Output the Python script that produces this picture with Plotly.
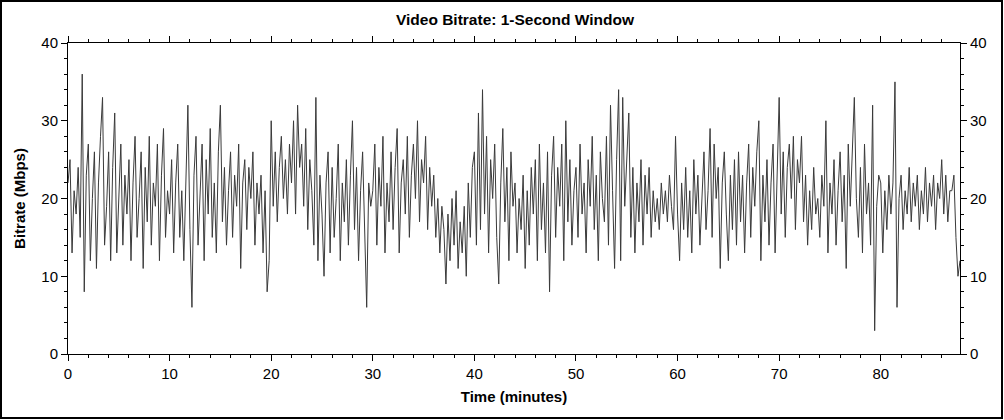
import numpy as np
import plotly.graph_objects as go

bitrate_00_10 = [22, 25, 13, 21, 18, 24, 15, 36, 8, 23, 27, 12, 20, 26, 11, 22, 28, 33, 14, 19,
                 26, 12, 24, 31, 13, 21, 27, 14, 23, 18, 25, 12, 22, 28, 15, 20, 26, 11, 24, 17,
                 28, 14, 22, 19, 27, 12, 23, 29, 15, 21]
bitrate_10_20 = [18, 25, 13, 22, 27, 15, 21, 12, 24, 32, 16, 6, 23, 28, 14, 20, 27, 12, 25, 18,
                 29, 15, 22, 13, 26, 32, 17, 24, 14, 21, 26, 15, 23, 19, 27, 11, 22, 25, 16, 24,
                 20, 26, 14, 22, 18, 23, 13, 21, 8, 12]
bitrate_20_30 = [30, 19, 26, 17, 24, 28, 20, 25, 18, 27, 22, 30, 18, 32, 24, 27, 19, 29, 16, 25,
                 21, 14, 33, 12, 23, 18, 10, 22, 26, 13, 24, 15, 20, 27, 12, 22, 17, 25, 14, 23,
                 30, 16, 24, 12, 21, 26, 14, 6, 22, 19]
bitrate_30_40 = [21, 27, 14, 24, 19, 28, 13, 22, 17, 26, 16, 24, 29, 13, 22, 25, 18, 28, 15, 23,
                 27, 20, 30, 17, 25, 22, 28, 16, 24, 19, 23, 15, 20, 13, 19, 16, 9, 18, 12, 20,
                 14, 21, 11, 17, 13, 19, 10, 22, 15, 24]
bitrate_40_50 = [26, 14, 31, 16, 34, 18, 28, 13, 25, 20, 27, 15, 9, 22, 29, 17, 24, 12, 26, 19,
                 22, 13, 20, 16, 23, 11, 21, 14, 24, 18, 25, 12, 27, 16, 22, 13, 26, 8, 23, 28,
                 15, 24, 19, 27, 12, 30, 17, 25, 14, 21]
bitrate_50_60 = [24, 15, 27, 18, 22, 13, 25, 19, 28, 16, 23, 12, 26, 20, 17, 28, 14, 32, 21, 11,
                 25, 34, 12, 33, 19, 26, 31, 15, 24, 13, 22, 17, 25, 14, 23, 18, 24, 15, 21, 17,
                 20, 16, 22, 18, 21, 17, 23, 19, 16, 28]
bitrate_60_70 = [18, 12, 22, 16, 24, 15, 21, 13, 25, 18, 23, 14, 20, 26, 16, 21, 29, 15, 27, 20,
                 24, 11, 22, 26, 18, 12, 23, 16, 25, 14, 26, 17, 23, 13, 22, 27, 15, 24, 19, 26,
                 30, 12, 23, 17, 25, 14, 22, 27, 13, 24]
bitrate_70_80 = [33, 18, 26, 15, 24, 27, 20, 28, 16, 25, 22, 28, 17, 23, 14, 21, 16, 24, 18, 20,
                 15, 23, 19, 30, 13, 22, 18, 25, 14, 21, 26, 17, 23, 11, 27, 19, 25, 33, 20, 15,
                 24, 13, 27, 18, 22, 14, 32, 3, 19, 23]
bitrate_80_88 = [22, 13, 21, 16, 23, 18, 22, 35, 6, 20, 23, 16, 21, 18, 24, 17, 22, 19, 23, 16,
                 21, 18, 24, 17, 22, 19, 23, 16, 22, 20, 25, 18, 23, 17, 21, 21, 23, 15, 10, 12]

bitrate = (bitrate_00_10 + bitrate_10_20 + bitrate_20_30 + bitrate_30_40 + bitrate_40_50
           + bitrate_50_60 + bitrate_60_70 + bitrate_70_80 + bitrate_80_88)
sample_step_min = 0.2
time_min = np.arange(len(bitrate)) * sample_step_min

x_ticks = [0, 10, 20, 30, 40, 50, 60, 70, 80]
y_ticks = [0, 10, 20, 30, 40]

title_text = "Video Bitrate: 1-Second Window"
x_title = "Time (minutes)"
y_title = "Bitrate (Mbps)"

FONT = "Liberation Sans, Arial, sans-serif"

fig = go.Figure()
fig.add_trace(go.Scatter(x=time_min, y=bitrate, mode="lines",
                         line=dict(color="#3a3a3a", width=1), hoverinfo="skip",
                         showlegend=False))
fig.add_trace(go.Scatter(x=time_min, y=bitrate, mode="lines", yaxis="y2",
                         line=dict(color="rgba(0,0,0,0)", width=0), hoverinfo="skip",
                         showlegend=False))

axis_common = dict(showgrid=False, zeroline=False, showline=True, linecolor="black",
                   linewidth=1, ticks="outside", ticklen=6, tickcolor="black",
                   tickfont=dict(family=FONT, size=15, color="black"))

fig.update_layout(
    width=1004, height=420,
    margin=dict(l=68, r=44, t=43, b=66),
    paper_bgcolor="white", plot_bgcolor="white",
    title=dict(text="<b>" + title_text + "</b>", x=515 / 1004, xanchor="center",
               y=1 - 20 / 420, yanchor="middle",
               font=dict(family=FONT, size=15.5, color="black")),
    xaxis=dict(range=[0, 87.8], tickvals=x_ticks, mirror="ticks",
               minor=dict(dtick=2, ticks="outside", ticklen=3, tickcolor="black"),
               title=dict(text="<b>" + x_title + "</b>", standoff=10,
                          font=dict(family=FONT, size=15, color="black")),
               **axis_common),
    yaxis=dict(range=[0, 40], tickvals=y_ticks,
               minor=dict(dtick=2, ticks="outside", ticklen=3, tickcolor="black"),
               title=dict(text="<b>" + y_title + "</b>", standoff=12,
                          font=dict(family=FONT, size=15, color="black")),
               **axis_common),
    yaxis2=dict(range=[0, 40], tickvals=y_ticks, overlaying="y", side="right",
                minor=dict(dtick=2, ticks="outside", ticklen=3, tickcolor="black"),
                **axis_common),
)

# outer frame around the whole picture
pw, ph = 1004 - 68 - 44, 420 - 43 - 66
fig.add_shape(type="rect", xref="paper", yref="paper",
              x0=-(68 - 1) / pw, x1=(1004 - 68 - 2) / pw,
              y0=-(66 - 2) / ph, y1=1 + (43 - 1) / ph,
              line=dict(color="black", width=2), fillcolor="rgba(0,0,0,0)", layer="above")

fig.write_html("out.html", config={"displayModeBar": False},
               post_script="document.body.style.margin='0';document.body.style.overflow='hidden';")
